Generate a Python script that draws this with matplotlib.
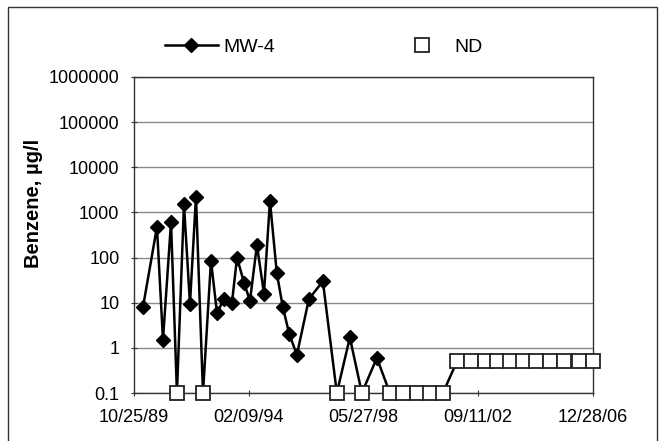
import matplotlib
matplotlib.use('Agg')
import matplotlib.pyplot as plt
from matplotlib.lines import Line2D
from matplotlib.patches import Rectangle
import pandas as pd

# sampling dates, benzene results in ug/l
sample_dates = ['1990-02-25', '1990-09-04', '1990-11-25', '1991-03-15', '1991-06-04',
                '1991-09-08', '1991-11-29', '1992-02-19', '1992-05-25', '1992-09-11',
                '1992-12-02', '1993-03-08', '1993-06-25', '1993-09-02', '1993-12-06',
                '1994-02-26', '1994-06-01', '1994-09-05', '1994-11-26', '1995-02-28',
                '1995-05-21', '1995-08-18', '1995-11-29', '1996-05-11', '1996-11-18',
                '1997-05-28', '1997-11-22', '1998-05-05', '1998-11-26', '1999-05-23',
                '1999-11-16', '2000-05-26', '2000-11-19', '2001-05-16', '2001-11-25',
                '2002-06-05', '2002-12-13', '2003-05-26', '2003-11-20', '2004-05-16',
                '2004-11-10', '2005-05-20', '2005-11-27', '2006-06-20', '2006-12-28']
benzene = [8, 480, 1.5, 600, 0.1,
           1500, 9.5, 2200, 0.1, 85,
           6, 12, 10, 100, 28,
           11, 190, 16, 1800, 45,
           8, 2, 0.7, 12, 30,
           0.1, 1.7, 0.1, 0.6, 0.1,
           0.1, 0.1, 0.1, 0.1, 0.5,
           0.5, 0.5, 0.5, 0.5, 0.5,
           0.5, 0.5, 0.5, 0.5, 0.5]
# 1 = not detected (plotted at detection limit)
nondetect = [0, 0, 0, 0, 1,
             0, 0, 0, 1, 0,
             0, 0, 0, 0, 0,
             0, 0, 0, 0, 0,
             0, 0, 0, 0, 0,
             1, 0, 1, 0, 1,
             1, 1, 1, 1, 1,
             1, 1, 1, 1, 1,
             1, 1, 1, 1, 1]

x_tick_labels = ['10/25/89', '02/09/94', '05/27/98', '09/11/02', '12/28/06']
y_ticks = [0.1, 1, 10, 100, 1000, 10000, 100000, 1000000]

plt.rcParams['font.family'] = ['Liberation Sans', 'DejaVu Sans']

df = pd.DataFrame({'date': pd.to_datetime(sample_dates), 'val': benzene, 'nd': nondetect})
det = df[df.nd == 0]
nd = df[df.nd == 1]
xticks = pd.to_datetime(x_tick_labels, format='%m/%d/%y')

fig = plt.figure(figsize=(6.62, 4.41), dpi=100)
ax = fig.add_axes([0.2024, 0.1088, 0.6934, 0.7166])

ax.plot(df.date, df.val, color='black', lw=1.8, zorder=3, clip_on=False)
ax.plot(det.date, det.val, ls='none', marker='D', ms=6.8, color='black', zorder=4, clip_on=False)
ax.plot(nd.date, nd.val, ls='none', marker='s', ms=9.5, mfc='white', mec='#222222',
        mew=1.3, zorder=5, clip_on=False)

ax.set_yscale('log')
ax.set_ylim(0.1, 1000000)
ax.set_yticks(y_ticks)
ax.set_yticklabels(['0.1', '1', '10', '100', '1000', '10000', '100000', '1000000'])
ax.minorticks_off()
ax.set_xlim(xticks[0], xticks[-1])
ax.set_xticks(xticks)
ax.set_xticklabels(x_tick_labels)

ax.grid(axis='y', color='#8a8a8a', lw=1)
ax.set_axisbelow(True)
for s in ax.spines.values():
    s.set_color('#333333')
    s.set_linewidth(1)
ax.tick_params(axis='both', labelsize=13, direction='inout', length=5, color='#333333')
ax.tick_params(axis='x', pad=9)
ax.tick_params(axis='y', pad=8)

ax.set_ylabel('Benzene, µg/l', fontsize=14.5, fontweight='bold')
ax.yaxis.set_label_coords(-0.198, 0.60)

handles = [Line2D([], [], color='black', lw=1.8, marker='D', ms=6.8),
           Line2D([], [], ls='none', marker='s', ms=9.5, mfc='white', mec='#222222', mew=1.3)]
fig.legend(handles, ['MW-4', 'ND'], loc='center left', bbox_to_anchor=(165 / 662, 1 - 47 / 441),
           ncol=2, frameon=False, fontsize=14, handlelength=2.7, handletextpad=0.3,
           columnspacing=6.2, borderpad=0, borderaxespad=0)

# outer chart border
fig.add_artist(Rectangle((8 / 662, -0.05), 649 / 662, 1.05 - 7 / 441, transform=fig.transFigure,
                         fill=False, ec='#333333', lw=1))

plt.savefig('out.png', dpi=100)
